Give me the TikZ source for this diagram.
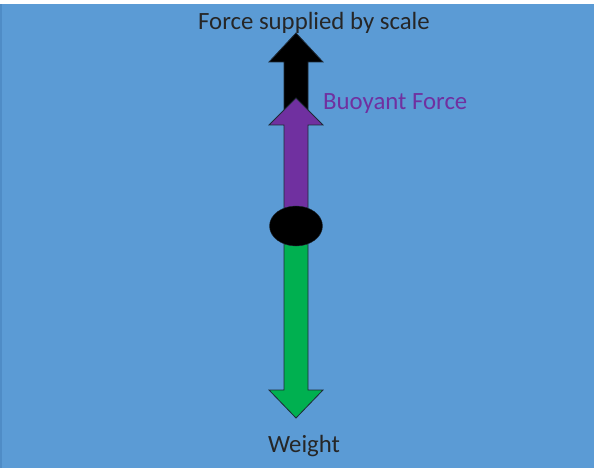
\documentclass[tikz,border=0pt]{standalone}
\usepackage{fontspec}
\setmainfont{Carlito}
\usetikzlibrary{positioning, shapes.geometric}
\definecolor{sky}{HTML}{5B9BD5}
\definecolor{skyEdge}{HTML}{4F8CC6}
\definecolor{plum}{HTML}{7030A0}
\definecolor{leaf}{HTML}{00B050}
\definecolor{outline}{HTML}{1F2A36}
\begin{document}
\begin{tikzpicture}[x=1pt,y=-1pt]
    \tikzset{arr/.style={draw=outline,line width=0.8pt,line join=miter}, lbl/.style={font=\fontsize{24.8}{27}\selectfont,inner sep=0pt,text=black!85}}
    \useasboundingbox (0,0) rectangle (594,468);
    \fill[white] (0,0) rectangle (594,468);
    \fill[sky] (0,4) rectangle (594,468);
    \fill[skyEdge] (0,4) rectangle (2,468);
    % force arrows
    \draw[arr,fill=black] (284,125) -- (284,62) -- (269,62) -- (296,33) -- (323,62) -- (308,62) -- (308,125) -- cycle;
    \draw[arr,fill=plum] (284,220) -- (284,125) -- (269,125) -- (296,98) -- (323,125) -- (308,125) -- (308,220) -- cycle;
    \draw[arr,fill=leaf] (284,235) -- (284,390) -- (269,390) -- (296,418) -- (323,390) -- (308,390) -- (308,235) -- cycle;
    \node[draw=outline,fill=black,ellipse,minimum width=53pt,minimum height=40pt,inner sep=0pt] (body) at (296,226) {};
    \node[lbl,anchor=base] (scale) at (314,30) {Force supplied by scale};
    \node[lbl,text=plum,anchor=base west] (buoy) at (323,110) {Buoyant Force};
    \node[lbl,anchor=base] (weight) at (304,452) {Weight};
  \end{tikzpicture}
\end{document}
